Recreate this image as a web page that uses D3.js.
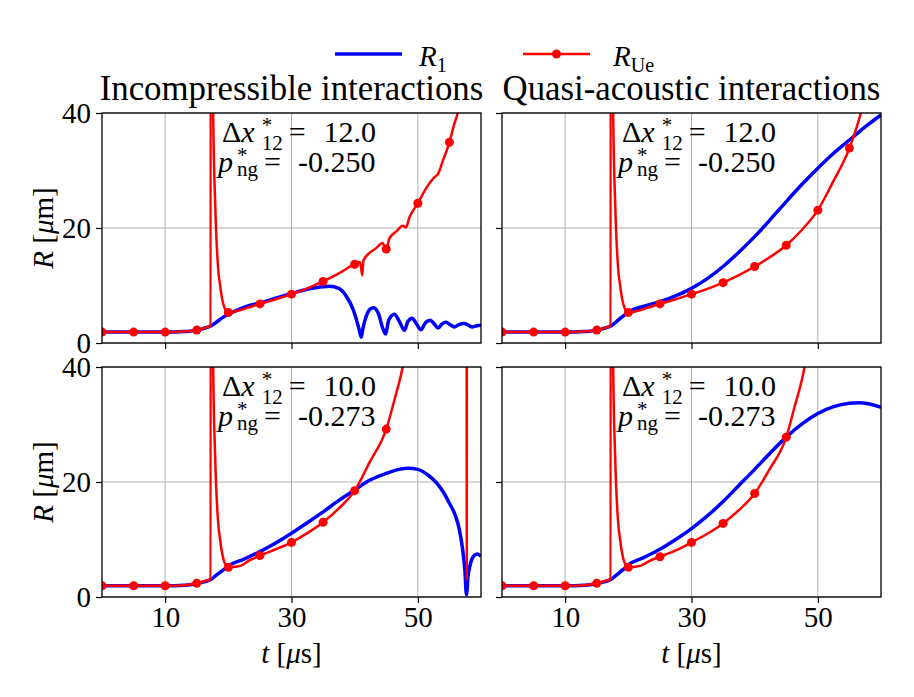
<!DOCTYPE html>
<html>
<head>
<meta charset="utf-8">
<script src="https://cdn.jsdelivr.net/npm/d3@7"></script>
<style>
  body { margin: 0; background: #fff; }
  text { font-family: "Liberation Serif", "Times New Roman", serif; fill: #000; }
</style>
</head>
<body>
<svg id="fig" width="914" height="697"></svg>
<script>
// ---- data ----
var tTicks = [10, 30, 50];
var rTicks = [0, 20, 40];
var colTitles = ['Incompressible interactions', 'Quasi-acoustic interactions'];
var dxLabels = ['12.0', '10.0'];
var pngLabels = ['-0.250', '-0.273'];

// [t (us), R (um)]
var incomp12R1 = [[0,1.9],[5,1.9],[10,1.9],[13,2.0],[15,2.2],[16,2.5],[17.3,3.0],[18.2,3.7],[19.2,4.5],[20,5.0],[21.8,5.9],[23,6.4],[25,6.95],[27.5,7.8],[30,8.6],[32.5,9.35],[35,9.8],[36,9.85],[37.5,9.5],[38.7,8.1],[39.8,5.7],[40.6,2.8],[40.85,1.7],[41.05,1.0],[41.25,2.2],[41.6,3.85],[42.4,5.85],[43.0,6.15],[43.8,5.0],[44.4,2.7],[44.7,1.9],[44.9,1.55],[45.1,2.4],[45.4,4.0],[46.3,5.0],[47.1,3.7],[47.9,2.2],[48.4,3.7],[49.1,4.3],[49.8,3.3],[50.5,2.3],[51.2,3.5],[51.95,3.95],[52.6,3.3],[53.2,2.6],[53.8,3.3],[54.5,3.6],[55.1,3.2],[55.8,2.8],[56.5,3.2],[57.3,3.4],[58,3.1],[58.6,2.8],[59.3,3.0],[60,3.1]];
var incomp12RUe = [[0,1.9],[5,1.9],[10,1.9],[13,2.0],[15,2.25],[16,2.55],[17.2,3.0],[17.3,500],[17.5,500],[17.6,40],[17.9,24.9],[18.36,13.3],[18.7,10.0],[19.05,7.5],[19.4,6.1],[19.7,5.45],[20,5.3],[21.5,5.6],[23,6.1],[25,6.8],[27.5,7.6],[30,8.5],[32.5,9.5],[35,10.7],[37.5,12.1],[40,13.7],[40.85,14.1],[41.2,11.8],[41.4,14.4],[43.4,16.5],[44.4,17.4],[45,16.35],[45.5,18.2],[46.6,19.4],[47.6,20.4],[48.1,20.1],[48.7,21.9],[50,24.3],[51.3,26.9],[52.6,28.8],[53.2,29.4],[53.9,31.5],[55,34.9],[55.8,38.2],[56.3,40],[57,45],[58,55],[60,80]];
var quasi12R1 = [[0,1.9],[5,1.9],[10,1.9],[13,2.0],[15,2.2],[16,2.5],[17.3,3.0],[18.2,3.8],[19.2,4.7],[20,5.4],[22.5,6.4],[25,7.2],[27.5,8.2],[30,9.5],[32.5,11.2],[35,13.3],[37.5,15.8],[40,18.5],[42.5,21.5],[45,24.6],[47.5,27.6],[50,30.4],[52.5,33.0],[55,35.3],[57.5,37.6],[60,39.65]];
var quasi12RUe = [[0,1.9],[5,1.9],[10,1.9],[13,2.0],[15,2.25],[16,2.55],[17.2,3.0],[17.3,500],[17.5,500],[17.6,40],[17.9,24.9],[18.36,13.3],[18.7,10.0],[19.05,7.5],[19.4,6.1],[19.7,5.45],[20,5.3],[21.5,5.6],[23,6.1],[25,6.8],[27.5,7.6],[30,8.5],[32.5,9.4],[35,10.5],[37.5,11.8],[40,13.3],[42.5,15.0],[45,17.0],[47.5,19.7],[50,23.1],[52.3,27.8],[55,33.9],[56.8,40],[58,46],[60,60]];
var incomp10R1 = [[0,1.95],[5,1.95],[10,1.95],[13,2.05],[15,2.3],[16,2.6],[17.3,3.07],[18.2,3.9],[19.2,4.7],[20,5.4],[22.5,6.6],[25,7.9],[27.5,9.4],[30,11.1],[32.5,12.9],[35,14.8],[37.5,16.8],[40,18.6],[42,20.1],[45,21.5],[47,22.2],[48.5,22.4],[50,22.2],[51.5,21.3],[53,19.8],[54,18.3],[55,16.3],[56,14.0],[56.6,11.6],[57.1,8.2],[57.45,4.6],[57.7,0.4],[57.95,3.6],[58.2,5.2],[58.6,6.7],[59.0,7.3],[59.4,7.5],[60,7.1]];
var incomp10RUe = [[0,1.95],[5,1.95],[10,1.95],[13,2.05],[15,2.4],[16,2.7],[17.2,3.1],[17.3,500],[17.5,500],[17.6,40],[17.9,24.9],[18.36,13.3],[18.7,10.0],[19.05,7.4],[19.4,6.0],[19.7,5.35],[20,5.16],[21,5.25],[22,5.45],[23.4,6.4],[25,7.2],[27.5,8.3],[30,9.5],[32.5,11.1],[35,13.0],[37.5,15.4],[40,18.5],[42.4,23.5],[45,29.2],[46.3,34.3],[47.6,40],[49,50],[52,80],[55,150],[57.6,500],[57.75,3.0],[57.9,500],[60,500]];
var quasi10R1 = [[0,1.95],[5,1.95],[10,1.95],[13,2.05],[15,2.3],[16,2.6],[17.3,3.07],[18.2,3.9],[19.2,4.8],[20,5.6],[22.5,6.9],[25,8.3],[27.5,10.0],[30,11.9],[32.5,14.1],[35,16.6],[37.5,19.4],[40,22.2],[42.5,25.1],[45,27.8],[47.5,30.1],[50,31.9],[52.5,33.1],[55,33.7],[56.5,33.8],[58,33.6],[60,33.0]];
var quasi10RUe = [[0,1.95],[5,1.95],[10,1.95],[13,2.05],[15,2.4],[16,2.7],[17.2,3.1],[17.3,500],[17.5,500],[17.6,40],[17.9,24.9],[18.36,13.3],[18.7,10.0],[19.05,7.4],[19.4,6.0],[19.7,5.35],[20,5.16],[21,5.25],[22,5.45],[23.4,6.3],[25,7.0],[27.5,8.1],[30,9.5],[32.5,11.0],[35,12.8],[37.5,15.1],[40,18.0],[42.3,22.1],[45,27.8],[46.3,33.0],[47.9,40],[49,48],[52,80],[60,200]];

// ---- layout ----
var W = 379, H = 230;
var lefts = [102, 502], tops = [113, 367];
var blue = '#0000ff', red = '#ff0000';

var panels = [
  { row: 0, col: 0, r1: incomp12R1, rue: incomp12RUe },
  { row: 0, col: 1, r1: quasi12R1,  rue: quasi12RUe },
  { row: 1, col: 0, r1: incomp10R1, rue: incomp10RUe },
  { row: 1, col: 1, r1: quasi10R1,  rue: quasi10RUe }
];

var svg = d3.select('#fig');
var x = d3.scaleLinear().domain([0, 60]).range([0, W]);
var y = d3.scaleLinear().domain([0, 40]).range([H, 0]);
var line = d3.line()
    .x(function(d) { return x(d[0]); })
    .y(function(d) { return y(d[1]); })
    .curve(d3.curveMonotoneX);

panels.forEach(function(p, i) {
  var g = svg.append('g')
      .attr('transform', 'translate(' + lefts[p.col] + ',' + tops[p.row] + ')');

  g.append('clipPath').attr('id', 'clip' + i)
    .append('rect').attr('width', W).attr('height', H);

  // grid
  g.selectAll('.vgrid').data(tTicks).enter().append('line')
      .attr('x1', function(d) { return x(d); }).attr('x2', function(d) { return x(d); })
      .attr('y1', 0).attr('y2', H)
      .attr('stroke', '#b0b0b0').attr('stroke-width', 1);
  g.selectAll('.hgrid').data(rTicks).enter().append('line')
      .attr('y1', function(d) { return y(d); }).attr('y2', function(d) { return y(d); })
      .attr('x1', 0).attr('x2', W)
      .attr('stroke', '#b0b0b0').attr('stroke-width', 1);

  var plot = g.append('g').attr('clip-path', 'url(#clip' + i + ')');
  plot.append('path').datum(p.r1)
      .attr('d', line).attr('fill', 'none')
      .attr('stroke', blue).attr('stroke-width', 3.5);
  plot.append('path').datum(p.rue)
      .attr('d', line).attr('fill', 'none')
      .attr('stroke', red).attr('stroke-width', 2.5);
  plot.selectAll('circle')
      .data(p.rue.filter(function(d) { return d[0] % 5 === 0; }))
    .enter().append('circle')
      .attr('cx', function(d) { return x(d[0]); })
      .attr('cy', function(d) { return y(d[1]); })
      .attr('r', 4.5).attr('fill', red);

  // spines
  g.append('rect').attr('width', W).attr('height', H)
      .attr('fill', 'none').attr('stroke', '#000').attr('stroke-width', 1.3);

  var xa = g.append('g').attr('transform', 'translate(0,' + H + ')')
      .call(d3.axisBottom(x).tickValues(tTicks).tickSize(6).tickPadding(3)
        .tickFormat(p.row === 1 ? d3.format('d') : ''));
  var ya = g.append('g')
      .call(d3.axisLeft(y).tickValues(rTicks).tickSize(6).tickPadding(5)
        .tickFormat(p.col === 0 ? d3.format('d') : ''));
  [xa, ya].forEach(function(a) {
    a.select('.domain').remove();
    a.attr('font-family', null).attr('font-size', null);
    a.selectAll('line').attr('stroke-width', 1.2);
    a.selectAll('text').style('font-size', '29px');
  });

  if (p.row === 0) {
    g.append('text').attr('x', W / 2).attr('y', -13)
        .attr('text-anchor', 'middle').style('font-size', '34.8px')
        .text(colTitles[p.col]);
  }
  if (p.row === 1) {
    var xl = g.append('text').attr('x', W / 2).attr('y', H + 66)
        .attr('text-anchor', 'middle').style('font-size', '29px');
    xl.append('tspan').style('font-style', 'italic').text('t');
    xl.append('tspan').text(' [');
    xl.append('tspan').style('font-style', 'italic').text('\u03bc');
    xl.append('tspan').text('s]');
  }
  if (p.col === 0) {
    var yl = g.append('text')
        .attr('transform', 'translate(-49,' + (H / 2) + ') rotate(-90)')
        .attr('text-anchor', 'middle').style('font-size', '29px');
    yl.append('tspan').style('font-style', 'italic').text('R');
    yl.append('tspan').text(' [');
    yl.append('tspan').style('font-style', 'italic').text('\u03bc');
    yl.append('tspan').text('m]');
  }

  // annotation
  var t1 = g.append('text').attr('x', 120).attr('y', 29).style('font-size', '30px');
  t1.append('tspan').text('\u0394');
  t1.append('tspan').style('font-style', 'italic').text('x');
  t1.append('tspan').attr('dx', 7).attr('dy', -10).style('font-size', '21px').text('*');
  t1.append('tspan').attr('dx', -10.5).attr('dy', 18).style('font-size', '21px').text('12');
  t1.append('tspan').attr('dx', 6).attr('dy', -8).text('=');
  t1.append('tspan').attr('dx', 18).text(dxLabels[p.row]);

  var t2 = g.append('text').attr('x', 116).attr('y', 58.5).style('font-size', '30px');
  t2.append('tspan').style('font-style', 'italic').text('p');
  t2.append('tspan').attr('dx', 4).attr('dy', -10).style('font-size', '21px').text('*');
  t2.append('tspan').attr('dx', -10.5).attr('dy', 14).style('font-size', '21px').text('ng');
  t2.append('tspan').attr('dx', 6).attr('dy', -4).text('=');
  t2.append('tspan').attr('dx', 17).text(pngLabels[p.row]);
});

// legend
var leg = svg.append('g');
leg.append('line').attr('x1', 335).attr('x2', 402).attr('y1', 54).attr('y2', 54)
    .attr('stroke', blue).attr('stroke-width', 3.5);
var l1 = leg.append('text').attr('x', 419).attr('y', 66).style('font-size', '29px');
l1.append('tspan').style('font-style', 'italic').text('R');
l1.append('tspan').attr('dy', 6).style('font-size', '20px').text('1');
leg.append('line').attr('x1', 523).attr('x2', 590).attr('y1', 54).attr('y2', 54)
    .attr('stroke', red).attr('stroke-width', 2.5);
leg.append('circle').attr('cx', 556.5).attr('cy', 54).attr('r', 4.5).attr('fill', red);
var l2 = leg.append('text').attr('x', 613).attr('y', 66).style('font-size', '29px');
l2.append('tspan').style('font-style', 'italic').text('R');
l2.append('tspan').attr('dy', 6).style('font-size', '20px').text('Ue');
</script>
</body>
</html>
